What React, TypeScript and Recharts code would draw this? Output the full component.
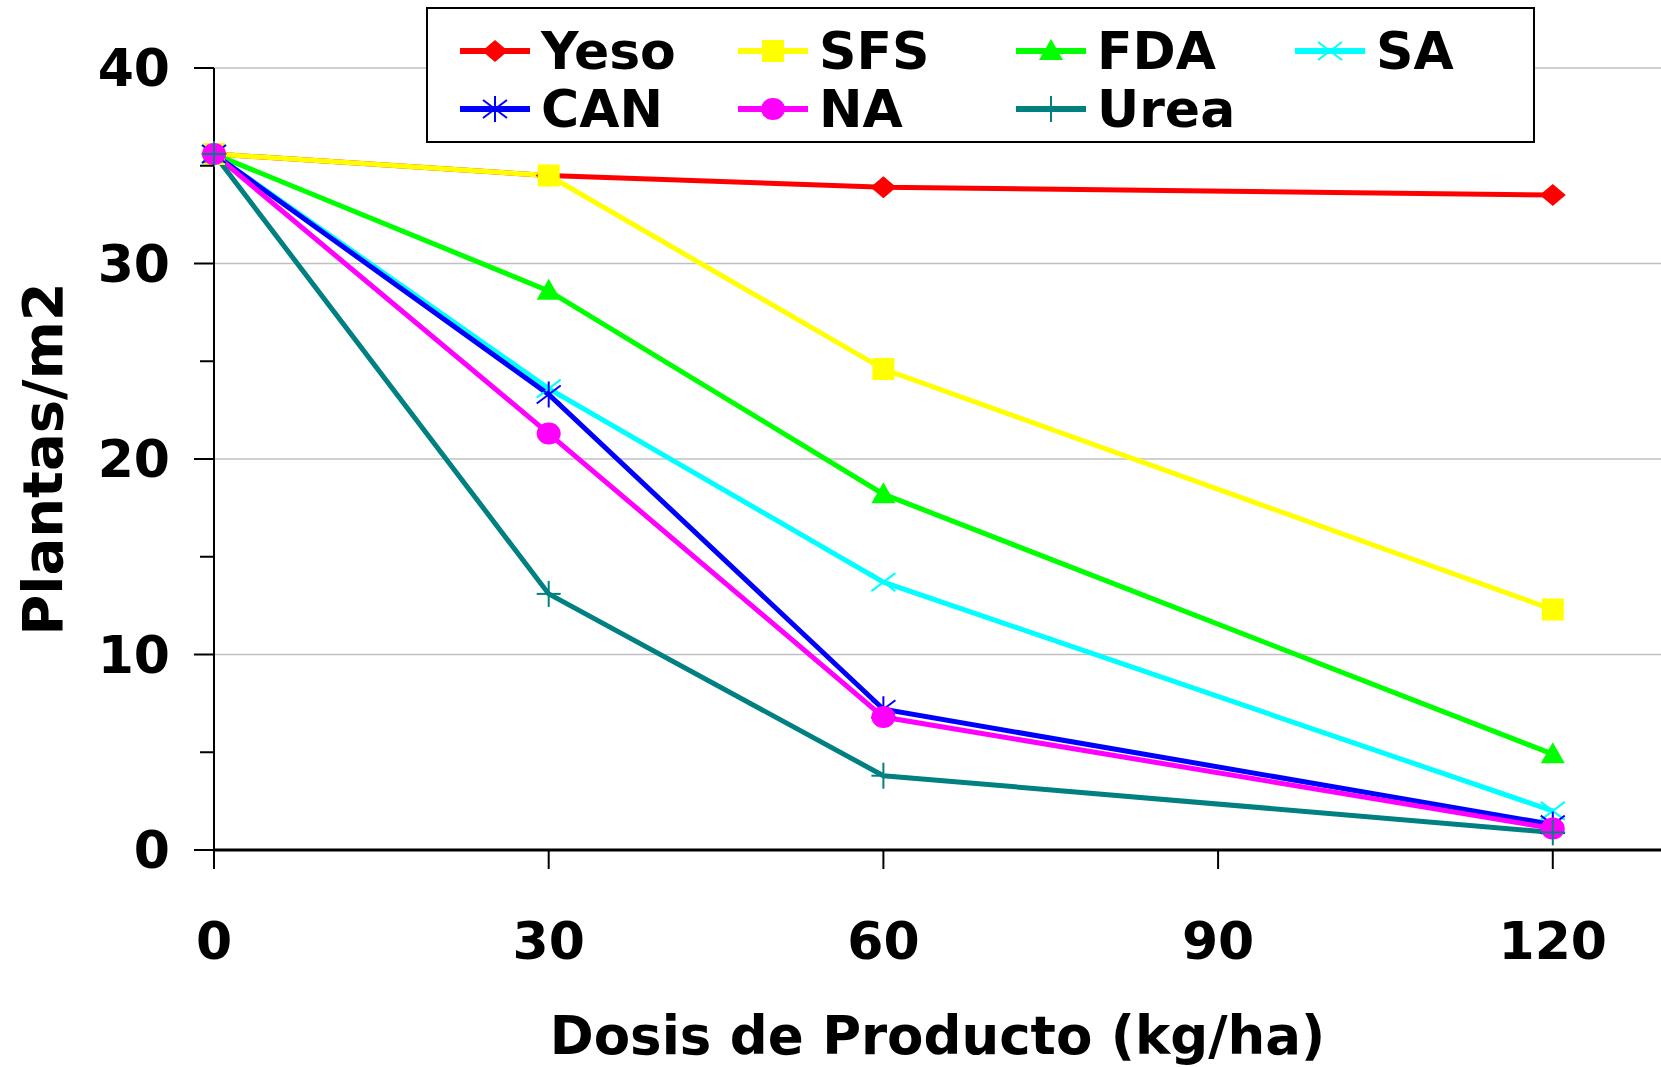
import React from 'react';
import { LineChart, Line, XAxis, YAxis, CartesianGrid, Legend, Label } from 'recharts';

const DOSES = [0, 30, 60, 120];
const X_TICKS = [0, 30, 60, 90, 120];
const Y_TICKS = [0, 5, 10, 15, 20, 25, 30, 35, 40];
const GRID_Y = [10, 20, 30, 40];

const YESO = [35.6, 34.5, 33.9, 33.5];
const SFS = [35.6, 34.5, 24.6, 12.3];
const FDA = [35.6, 28.6, 18.2, 4.9];
const SA = [35.6, 23.6, 13.7, 2.0];
const CAN = [35.6, 23.3, 7.2, 1.3];
const NA = [35.6, 21.3, 6.8, 1.1];
const UREA = [35.6, 13.1, 3.8, 0.9];

const SERIES = [
  { name: 'Yeso', values: YESO, color: '#ff0000', shape: 'diamond' },
  { name: 'SFS', values: SFS, color: '#ffff00', shape: 'square' },
  { name: 'FDA', values: FDA, color: '#00ff00', shape: 'triangle' },
  { name: 'SA', values: SA, color: '#00ffff', shape: 'x' },
  { name: 'CAN', values: CAN, color: '#0000ff', shape: 'star' },
  { name: 'NA', values: NA, color: '#ff00ff', shape: 'circle' },
  { name: 'Urea', values: UREA, color: '#008080', shape: 'plus' },
];

const data = DOSES.map((d, i) => {
  const row: Record<string, number> = { dose: d };
  SERIES.forEach((s) => (row[s.name] = s.values[i]));
  return row;
});

const FONT = '"DejaVu Sans", Verdana, sans-serif';

function Marker({ cx, cy, shape, color }: { cx: number; cy: number; shape: string; color: string }) {
  switch (shape) {
    case 'diamond':
      return <polygon points={`${cx},${cy - 11} ${cx + 13},${cy} ${cx},${cy + 11} ${cx - 13},${cy}`} fill={color} />;
    case 'square':
      return <rect x={cx - 11} y={cy - 11} width={22} height={22} fill={color} />;
    case 'triangle':
      return <polygon points={`${cx},${cy - 12} ${cx + 12},${cy + 9} ${cx - 12},${cy + 9}`} fill={color} />;
    case 'x':
      return (
        <g stroke={color} strokeWidth={2}>
          <line x1={cx - 12} y1={cy - 9} x2={cx + 12} y2={cy + 9} />
          <line x1={cx - 12} y1={cy + 9} x2={cx + 12} y2={cy - 9} />
        </g>
      );
    case 'star':
      return (
        <g stroke={color} strokeWidth={2}>
          <line x1={cx - 12} y1={cy - 9} x2={cx + 12} y2={cy + 9} />
          <line x1={cx - 12} y1={cy + 9} x2={cx + 12} y2={cy - 9} />
          <line x1={cx} y1={cy - 13} x2={cx} y2={cy + 13} />
        </g>
      );
    case 'circle':
      return <ellipse cx={cx} cy={cy} rx={12} ry={11} fill={color} />;
    case 'plus':
      return (
        <g stroke={color} strokeWidth={2}>
          <line x1={cx} y1={cy - 13} x2={cx} y2={cy + 13} />
          <line x1={cx - 12} y1={cy} x2={cx + 12} y2={cy} />
        </g>
      );
    default:
      return null;
  }
}

function YTick(props: any) {
  const { x, y, payload } = props;
  const major = payload.value % 10 === 0;
  return (
    <g>
      <line x1={x - (major ? 20 : 14)} y1={y} x2={x} y2={y} stroke="#000" strokeWidth={2} />
      {major && (
        <text x={x - 44} y={y + 18} textAnchor="end" fontFamily={FONT} fontWeight="bold" fontSize={52} fill="#000">
          {payload.value}
        </text>
      )}
    </g>
  );
}

function XTick(props: any) {
  const { x, y, payload } = props;
  return (
    <g>
      <line x1={x} y1={y} x2={x} y2={y + 19} stroke="#000" strokeWidth={2} />
      <text x={x} y={y + 109} textAnchor="middle" fontFamily={FONT} fontWeight="bold" fontSize={52} fill="#000">
        {payload.value}
      </text>
    </g>
  );
}

function LegendBox() {
  return (
    <div
      style={{
        boxSizing: 'border-box',
        width: 1109,
        height: 136,
        border: '2px solid #000',
        background: '#fff',
        display: 'grid',
        gridTemplateColumns: '278px 278px 279px 240px',
        gridTemplateRows: '58px 58px',
        padding: '13px 0 0 32px',
        fontFamily: FONT,
        fontWeight: 'bold',
        fontSize: 52,
        color: '#000',
      }}
    >
      {SERIES.map((s) => (
        <div key={s.name} style={{ display: 'flex', alignItems: 'center', lineHeight: '58px' }}>
          <svg width={70} height={30} style={{ marginRight: 11, flexShrink: 0 }}>
            <line x1={0} y1={15} x2={70} y2={15} stroke={s.color} strokeWidth={6} />
            <Marker cx={35} cy={15} shape={s.shape} color={s.color} />
          </svg>
          <span>{s.name}</span>
        </div>
      ))}
    </div>
  );
}

export default function App() {
  return (
    <div style={{ position: 'absolute', left: 0, top: 0, width: 1661, height: 1067, background: '#fff' }}>
      <LineChart width={1661} height={1067} data={data} margin={{ top: 68, right: 0, bottom: 0, left: 0 }}>
        <CartesianGrid vertical={false} horizontalValues={GRID_Y} stroke="#c0c0c0" strokeWidth={1.5} />
        <XAxis
          type="number"
          dataKey="dose"
          domain={[0, 129.7]}
          ticks={X_TICKS}
          height={217}
          axisLine={{ stroke: '#000', strokeWidth: 3 }}
          tickLine={false}
          tickSize={0}
          tickMargin={0}
          tick={<XTick />}
          interval={0}
        >
          <Label
            content={(p: any) => (
              <text
                x={p.viewBox.x + p.viewBox.width / 2}
                y={p.viewBox.y + 204}
                textAnchor="middle"
                fontFamily={FONT}
                fontWeight="bold"
                fontSize={53}
                fill="#000"
              >
                Dosis de Producto (kg/ha)
              </text>
            )}
          />
        </XAxis>
        <YAxis
          type="number"
          domain={[0, 40]}
          ticks={Y_TICKS}
          width={214}
          axisLine={{ stroke: '#000', strokeWidth: 2 }}
          tickLine={false}
          tickSize={0}
          tickMargin={0}
          tick={<YTick />}
          interval={0}
        >
          <Label
            content={(p: any) => {
              const cy = p.viewBox.y + p.viewBox.height / 2;
              return (
                <text
                  x={62}
                  y={cy}
                  transform={`rotate(-90, 62, ${cy})`}
                  textAnchor="middle"
                  fontFamily={FONT}
                  fontWeight="bold"
                  fontSize={56}
                  fill="#000"
                >
                  Plantas/m2
                </text>
              );
            }}
          />
        </YAxis>
        <Legend
          layout="horizontal"
          verticalAlign="middle"
          align="center"
          content={() => <LegendBox />}
          wrapperStyle={{ left: 426, top: 7, width: 1109, height: 136 }}
        />
        {SERIES.map((s) => (
          <Line
            key={s.name}
            type="linear"
            dataKey={s.name}
            stroke={s.color}
            strokeWidth={5}
            isAnimationActive={false}
            activeDot={false}
            dot={(p: any) => <Marker key={`${s.name}-${p.index}`} cx={p.cx} cy={p.cy} shape={s.shape} color={s.color} />}
          />
        ))}
      </LineChart>
    </div>
  );
}
